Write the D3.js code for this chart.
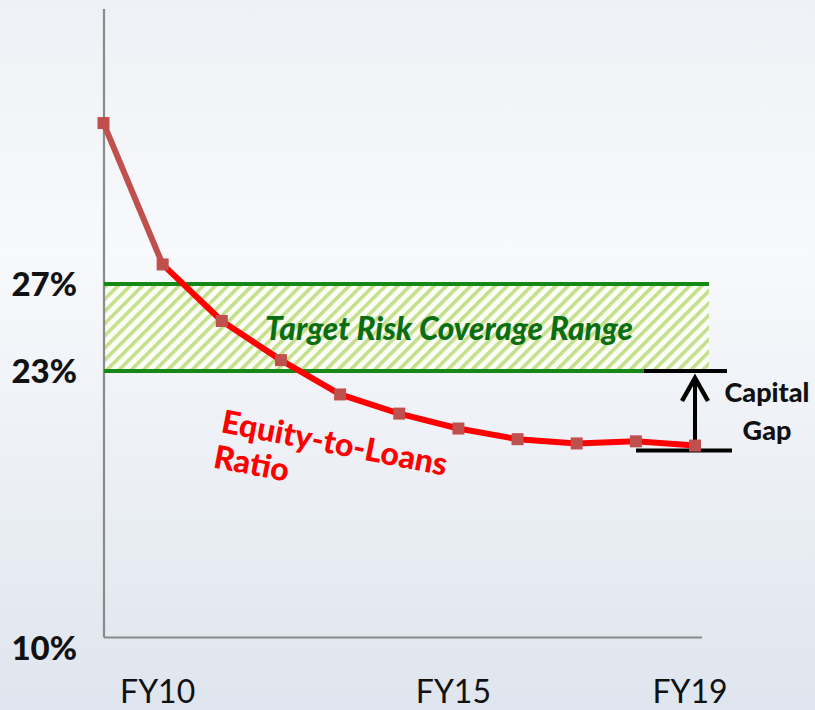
<!DOCTYPE html>
<html><head><meta charset="utf-8">
<script src="https://cdn.jsdelivr.net/npm/d3@7"></script>
<style>html,body{margin:0;padding:0;overflow:hidden;background:#f4f6f9}</style>
</head><body>
<script>
const years = ["FY09","FY10","FY11","FY12","FY13","FY14","FY15","FY16","FY17","FY18","FY19"];
const ratio = [34.4, 27.9, 25.3, 23.5, 21.9, 21.0, 20.3, 19.8, 19.6, 19.7, 19.5];
const xTickLabels = ["FY10","FY15","FY19"];
const yTickValues = [27, 23, 10];
const targetRange = [23, 27];

const W = 815, H = 710;
const svg = d3.select("body").append("svg").attr("width", W).attr("height", H);
const defs = svg.append("defs");
const grad = defs.append("linearGradient").attr("id","bg").attr("x1",0).attr("y1",0).attr("x2",0).attr("y2",1);
grad.append("stop").attr("offset","0%").attr("stop-color","#eef1f5");
grad.append("stop").attr("offset","35%").attr("stop-color","#f8f9fc");
grad.append("stop").attr("offset","100%").attr("stop-color","#dfe5ee");
svg.append("rect").attr("width",W).attr("height",H).attr("fill","url(#bg)");

const pat = defs.append("pattern").attr("id","hatch").attr("patternUnits","userSpaceOnUse")
  .attr("width",8.6).attr("height",8.6).attr("patternTransform","rotate(45)");
pat.append("rect").attr("width",8.6).attr("height",8.6).attr("fill","#fbfdf6");
pat.append("rect").attr("width",3.6).attr("height",8.6).attr("fill","#c5e08c");

const x = d3.scalePoint().domain(years).range([103.5, 695]);
const y = d3.scaleLinear().domain([10, 23, 27]).range([648, 371, 284]);
const axisLeftX = 104, axisTop = 9, axisBottom = 637.5, axisRight = 702;

// target band
const bandRight = x("FY19") + 14;
svg.append("rect").attr("x", axisLeftX).attr("y", y(targetRange[1]))
  .attr("width", bandRight - axisLeftX).attr("height", y(targetRange[0]) - y(targetRange[1]))
  .attr("fill","url(#hatch)");

// axes
svg.append("line").attr("x1",axisLeftX).attr("x2",axisLeftX).attr("y1",axisTop).attr("y2",axisBottom)
  .attr("stroke","#8a8a8a").attr("stroke-width",2.2);
svg.append("line").attr("x1",axisLeftX).attr("x2",axisRight).attr("y1",axisBottom).attr("y2",axisBottom)
  .attr("stroke","#8a8a8a").attr("stroke-width",2.2);

// green lines
const gapLeft = x("FY19") - 51;
svg.append("line").attr("x1",axisLeftX).attr("x2",bandRight).attr("y1",y(27)).attr("y2",y(27))
  .attr("stroke","#168816").attr("stroke-width",4);
svg.append("line").attr("x1",axisLeftX).attr("x2",gapLeft).attr("y1",y(23)).attr("y2",y(23))
  .attr("stroke","#168816").attr("stroke-width",4);

// band label
svg.append("text").attr("x", 449).attr("y", y(25) + 12).attr("text-anchor","middle")
  .attr("font-family","Lato").attr("font-weight","900").attr("font-style","italic")
  .attr("font-size",31.5).attr("fill","#0b6e12").text("Target Risk Coverage Range");

// capital gap
const last = ratio[ratio.length-1];
const gx = x("FY19");
svg.append("line").attr("x1",gapLeft).attr("x2",gx+32).attr("y1",y(23)).attr("y2",y(23))
  .attr("stroke","#000").attr("stroke-width",4);
const gapBottomY = y(last) + 5;
svg.append("line").attr("x1",gx-59).attr("x2",gx+37).attr("y1",gapBottomY).attr("y2",gapBottomY)
  .attr("stroke","#000").attr("stroke-width",4);
svg.append("line").attr("x1",gx).attr("x2",gx).attr("y1",gapBottomY).attr("y2",y(23)+6)
  .attr("stroke","#000").attr("stroke-width",4);
svg.append("path").attr("d",`M${gx-13},${y(23)+30} L${gx},${y(23)+7} L${gx+13},${y(23)+30}`)
  .attr("fill","none").attr("stroke","#000").attr("stroke-width",4.5).attr("stroke-linejoin","miter");
svg.append("text").attr("x",767).attr("y",402).attr("text-anchor","middle")
  .attr("font-family","Lato").attr("font-weight","900").attr("font-size",27).attr("fill","#111").text("Capital");
svg.append("text").attr("x",767).attr("y",440).attr("text-anchor","middle")
  .attr("font-family","Lato").attr("font-weight","900").attr("font-size",27).attr("fill","#111").text("Gap");

// series
const pts = years.map((d,i)=>({k:d, v:ratio[i]}));
const line = d3.line().x(d=>x(d.k)).y(d=>y(d.v));
svg.append("path").attr("d", line(pts.slice(1))).attr("fill","none").attr("stroke","#ff0000")
  .attr("stroke-width",6).attr("stroke-linejoin","round");
svg.append("path").attr("d", line(pts.slice(0,2))).attr("fill","none").attr("stroke","#c0504d")
  .attr("stroke-width",6);
svg.selectAll("rect.m").data(pts).enter().append("rect").attr("class","m")
  .attr("x",d=>x(d.k)-6).attr("y",d=>y(d.v)-6).attr("width",12).attr("height",12)
  .attr("fill","#c0504d");

// series label
const lab = svg.append("g").attr("transform","translate(220,432) rotate(11)");
lab.append("text").attr("x",0).attr("y",0).attr("font-family","Lato").attr("font-weight","900")
  .attr("font-size",32).attr("fill","#ff0000").text("Equity-to-Loans");
lab.append("text").attr("x",-1).attr("y",36).attr("font-family","Lato").attr("font-weight","900")
  .attr("font-size",32).attr("fill","#ff0000").text("Ratio");

// y tick labels
svg.selectAll("text.yt").data(yTickValues).enter().append("text").attr("class","yt")
  .attr("x",77).attr("y",d=>y(d)).attr("dy","0.36em").attr("text-anchor","end")
  .attr("font-family","Lato").attr("font-weight","900").attr("font-size",33).attr("fill","#111")
  .text(d=>d+"%");

// x tick labels
svg.selectAll("text.xt").data(xTickLabels).enter().append("text").attr("class","xt")
  .attr("x",d=>x(d)-5).attr("y",703).attr("text-anchor","middle")
  .attr("font-family","Lato").attr("font-size",32).attr("fill","#111").text(d=>d);
</script>
</body></html>
